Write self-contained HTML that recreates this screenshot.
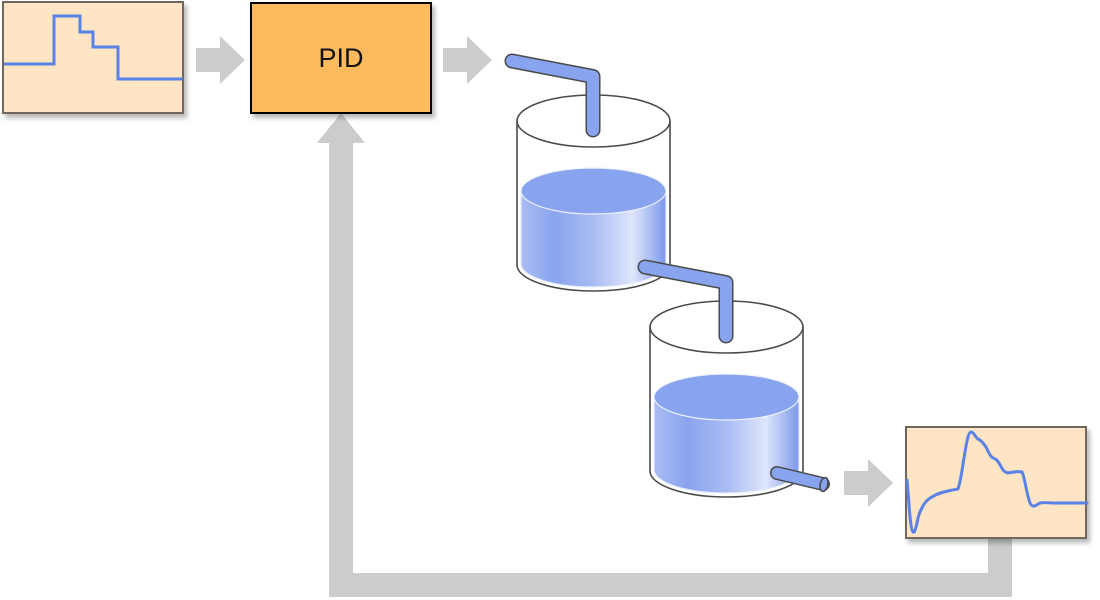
<!DOCTYPE html>
<html>
<head>
<meta charset="utf-8">
<style>
  html, body { margin:0; padding:0; background:#ffffff; }
  body { width:1100px; height:600px; overflow:hidden; }
  svg { display:block; }
</style>
</head>
<body>
<svg width="1100" height="600" viewBox="0 0 1100 600" xmlns="http://www.w3.org/2000/svg">
  <defs>
    <filter id="sh" x="-20%" y="-20%" width="150%" height="150%">
      <feDropShadow dx="3" dy="4" stdDeviation="2.5" flood-color="#000" flood-opacity="0.28"/>
    </filter>
    <linearGradient id="liq" x1="0" y1="0" x2="1" y2="0">
      <stop offset="0" stop-color="#abbcf3"/>
      <stop offset="0.23" stop-color="#89a4ee"/>
      <stop offset="0.5" stop-color="#a9bcf3"/>
      <stop offset="0.77" stop-color="#dfe6fb"/>
      <stop offset="1" stop-color="#7c98ea"/>
    </linearGradient>
    <g id="tank">
      <!-- body -->
      <path d="M517,121 L517,265 A76.5,26 0 0 0 670,265 L670,121" fill="#ffffff" stroke="#4a4a4a" stroke-width="1.6"/>
      <!-- liquid -->
      <path d="M521,191 L521,264 A72.5,23 0 0 0 666,264 L666,191 Z" fill="url(#liq)" stroke="#e8eefc" stroke-width="1.2"/>
      <ellipse cx="593.5" cy="191" rx="72.5" ry="23" fill="#89a4ee" stroke="#eef2fd" stroke-width="1.2"/>
      <!-- top -->
      <ellipse cx="593.5" cy="121" rx="76.5" ry="26" fill="none" stroke="#4a4a4a" stroke-width="1.6"/>
    </g>
    <g id="pipe">
      <polyline points="512,61 593,76.5 593,130" fill="none" stroke="#4a4a4a" stroke-width="15" stroke-linecap="round" stroke-linejoin="round"/>
      <polyline points="512,61 593,76.5 593,130" fill="none" stroke="#89a4ee" stroke-width="12" stroke-linecap="round" stroke-linejoin="round"/>
    </g>
  </defs>

  <!-- feedback arrow -->
  <polygon points="341,113 365,143 353,143 353,573 988,573 988,539 1012,539 1012,597 329,597 329,143 317,143" fill="#cccccc"/>

  <!-- block arrows -->
  <polygon points="196,48 220,48 220,36 245,60 220,84 220,72 196,72" fill="#cccccc"/>
  <polygon points="443,48 467,48 467,36 492,60 467,84 467,72 443,72" fill="#cccccc"/>
  <polygon points="844,471 868,471 868,459 893,483 868,507 868,495 844,495" fill="#cccccc"/>

  <!-- input chart -->
  <g filter="url(#sh)">
    <rect x="3" y="2" width="180" height="111" fill="#fde5c5" stroke="#6f675c" stroke-width="2"/>
  </g>
  <polyline points="4,64 54,64 54,16 80,16 80,32 93,32 93,47 118,47 118,79 183,79" fill="none" stroke="#5b82e6" stroke-width="3"/>

  <!-- PID box -->
  <g filter="url(#sh)">
    <rect x="251" y="3" width="180" height="110" fill="#fbbb5d" stroke="#000000" stroke-width="2"/>
  </g>
  <text x="341" y="67" text-anchor="middle" font-family="Liberation Sans, Arial, sans-serif" font-size="27" fill="#111111">PID</text>

  <!-- tank 1 -->
  <use href="#tank"/>
  <use href="#pipe"/>

  <!-- tank 2 -->
  <g transform="translate(133,206)">
    <use href="#tank"/>
  </g>
  <!-- pipe between tanks -->
  <g transform="translate(133,206)">
    <use href="#pipe"/>
  </g>

  <!-- outlet pipe -->
  <line x1="777" y1="473" x2="823" y2="484" stroke="#4a4a4a" stroke-width="14" stroke-linecap="round"/>
  <line x1="777" y1="473" x2="823" y2="484" stroke="#89a4ee" stroke-width="11" stroke-linecap="round"/>
  <ellipse cx="824" cy="484.5" rx="3.8" ry="7" transform="rotate(13 824 484.5)" fill="#89a4ee" stroke="#4a4a4a" stroke-width="1.6"/>

  <!-- output chart -->
  <g filter="url(#sh)">
    <rect x="906" y="427" width="180" height="111" fill="#fde5c5" stroke="#6f675c" stroke-width="2"/>
  </g>
  <path d="M907,480 C909,500 910,530 913,532 C916,534 917,518 920,512 C923,505 926,500 932,497 C938,493 946,491 958,489 C961,480 962,470 964,458 C966,446 968,432 971,432 C974,432 975,437 978,439 C982,441 983,443 986,447 C989,453 990,456 993,458 C996,459 997,460 999,463 C1002,468 1003,472 1008,473 C1013,472 1017,471 1022,472 C1025,478 1026,492 1030,503 C1033,509 1036,505 1040,503 C1045,502 1048,503 1052,503 L1087,503" fill="none" stroke="#5b82e6" stroke-width="3" stroke-linejoin="round" stroke-linecap="round"/>
</svg>
</body>
</html>
